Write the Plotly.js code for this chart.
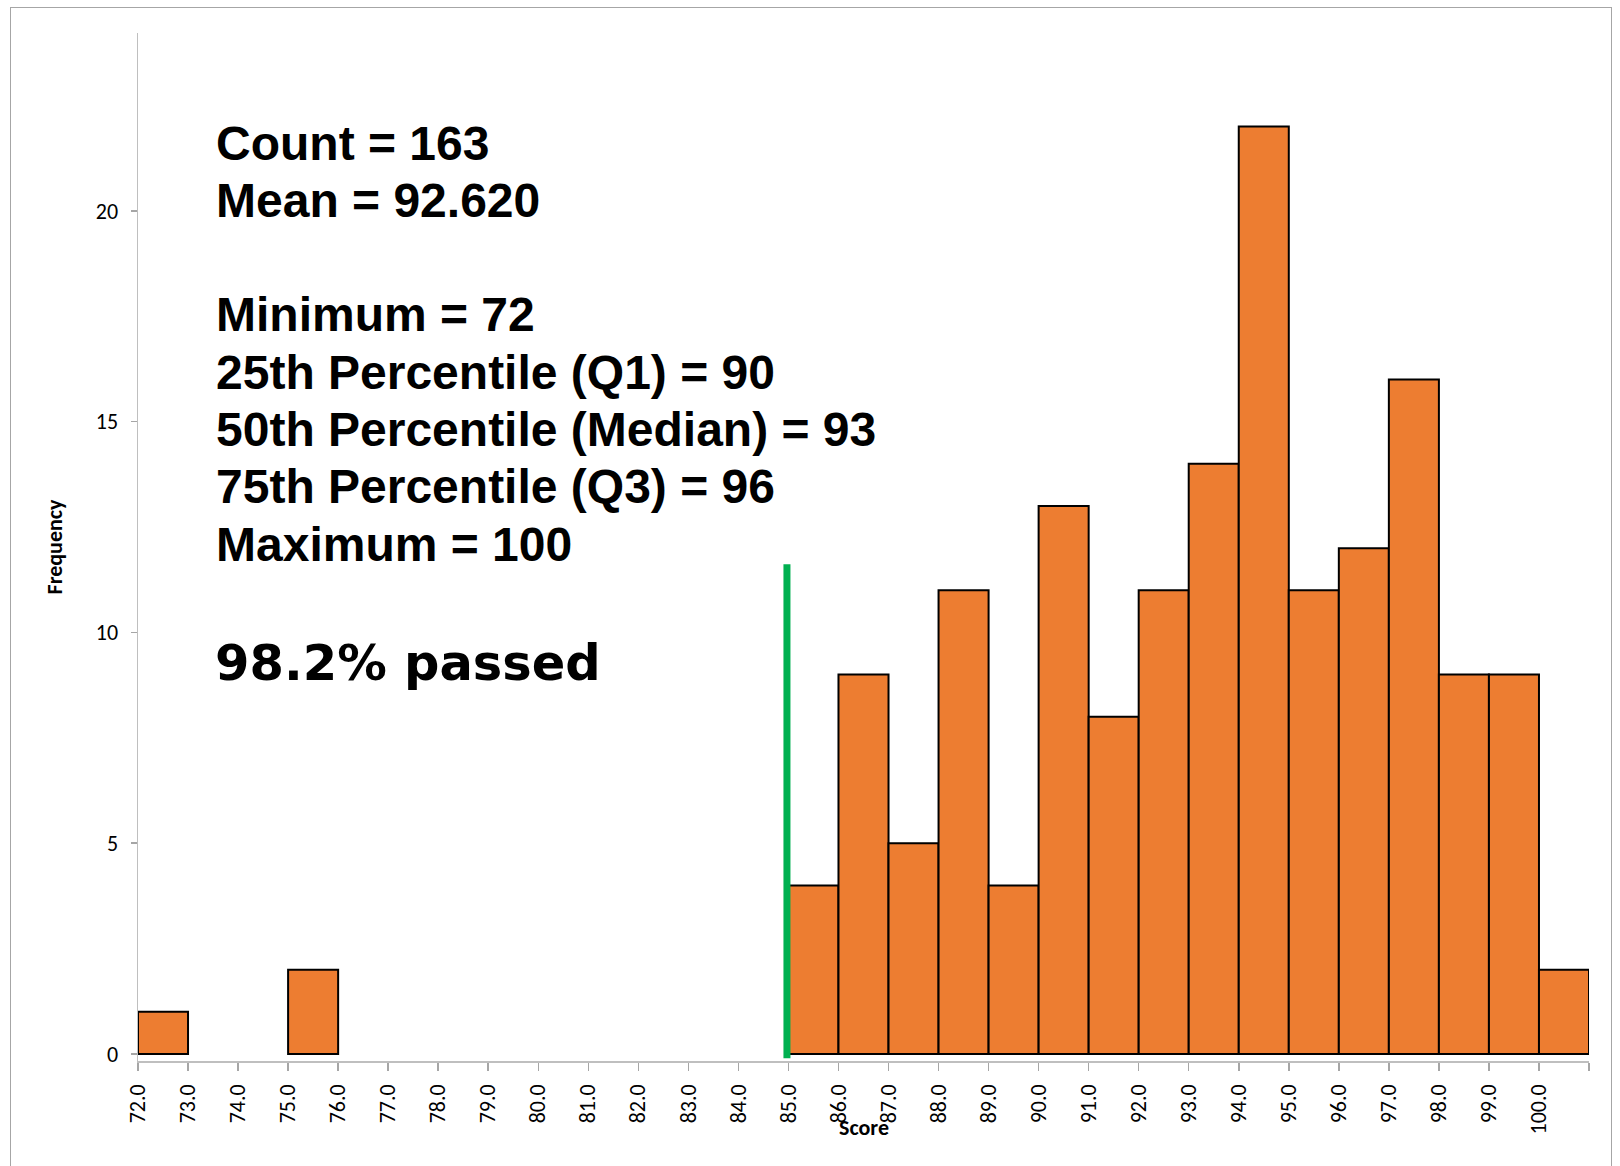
<!DOCTYPE html>
<html>
<head>
<meta charset="utf-8">
<script src="https://cdn.plot.ly/plotly-3.0.1.min.js"></script>
<style>
  html, body { margin: 0; padding: 0; background: #fff; overflow: hidden; }
  #chart { width: 1620px; height: 1166px; position: absolute; left: 0; top: 0; }
  #frame { position: absolute; left: 10px; top: 7px; width: 1600px; height: 1200px;
           border: 1.5px solid #A6A6A6; pointer-events: none; }
</style>
</head>
<body>
<div id="chart"></div>
<div id="frame"></div>
<script>
// ---- data ----
const binStarts = [72,73,74,75,76,77,78,79,80,81,82,83,84,85,86,87,88,89,90,91,92,93,94,95,96,97,98,99,100];
const counts    = [ 1, 0, 0, 2, 0, 0, 0, 0, 0, 0, 0, 0, 0, 4, 9, 5,11, 4,13, 8,11,14,22,11,12,16, 9, 9,  2];
const tickValues = [72,73,74,75,76,77,78,79,80,81,82,83,84,85,86,87,88,89,90,91,92,93,94,95,96,97,98,99,100,101];
const tickLabels = ["72.0","73.0","74.0","75.0","76.0","77.0","78.0","79.0","80.0","81.0","82.0","83.0","84.0","85.0","86.0","87.0","88.0","89.0","90.0","91.0","92.0","93.0","94.0","95.0","96.0","97.0","98.0","99.0","100.0",""];
const statLabels = ["Count","Mean","Minimum","25th Percentile (Q1)","50th Percentile (Median)","75th Percentile (Q3)","Maximum"];
const statValues = ["163","92.620","72","90","93","96","100"];
const passedText = "98.2% passed";
const passLineX = [84.97, 84.97];
const passLineY = [-0.1, 11.62];

// ---- chart ----
// empty bins are left out so that no outline is drawn along the baseline
const nonEmpty = counts.map((c, i) => i).filter(i => counts[i] > 0);
const barTrace = {
  type: 'bar',
  x: nonEmpty.map(i => binStarts[i] + 0.5),
  y: nonEmpty.map(i => counts[i]),
  width: nonEmpty.map(() => 1),
  marker: { color: '#ED7D31', line: { color: '#000000', width: 2 } },
  hoverinfo: 'x+y',
  showlegend: false
};

const axisFont = "Carlito, Calibri, Lato, sans-serif";
const statFont = { family: "'Liberation Sans', Arial, sans-serif", size: 48, color: '#000' };
const statShifts = [-110.5, -167.5, -281.5, -339.5, -396.5, -453.5, -511.5];
const annotations = statLabels.map((lab, i) => ({
  xref: 'paper', yref: 'paper', x: 0, y: 1,
  xanchor: 'left', yanchor: 'middle',
  xshift: 76, yshift: statShifts[i],
  text: '<b>' + lab + ' = ' + statValues[i] + '</b>',
  showarrow: false,
  font: statFont
}));
annotations.push({
  xref: 'paper', yref: 'paper', x: 0, y: 1,
  xanchor: 'left', yanchor: 'middle',
  xshift: 75, yshift: -630,
  text: '<b>' + passedText + '</b>',
  showarrow: false,
  font: { family: "'DejaVu Sans', Verdana, sans-serif", size: 49.5, color: '#000' }
});
annotations.push({
  xref: 'paper', yref: 'paper', x: 0.5, y: 0,
  xanchor: 'center', yanchor: 'middle',
  yshift: -66,
  text: '<b>Score</b>',
  showarrow: false,
  font: { family: axisFont, size: 22, color: '#000' }
});

const layout = {
  width: 1620, height: 1166,
  margin: { l: 138, r: 31, t: 33, b: 105, pad: 0 },
  paper_bgcolor: '#ffffff', plot_bgcolor: '#ffffff',
  bargap: 0,
  showlegend: false,
  xaxis: {
    range: [72, 101],
    tickmode: 'array', tickvals: tickValues, ticktext: tickLabels,
    tickangle: -90,
    ticks: 'outside', ticklen: 8, tickwidth: 1.5, tickcolor: '#A6A6A6',
    ticklabelstandoff: 5,
    showline: true, linecolor: '#BFBFBF', linewidth: 1.5,
    showgrid: false, zeroline: false,
    tickfont: { family: axisFont, size: 22, color: '#000' },
    fixedrange: true
  },
  yaxis: {
    range: [-0.166, 24.22],
    tickmode: 'array', tickvals: [0, 5, 10, 15, 20],
    ticks: 'outside', ticklen: 6, tickwidth: 1.5, tickcolor: '#A6A6A6',
    ticklabelstandoff: 8,
    showline: true, linecolor: '#BFBFBF', linewidth: 1.5,
    showgrid: false, zeroline: false,
    tickfont: { family: axisFont, size: 22, color: '#000' },
    title: { text: '<b>Frequency</b>', font: { family: axisFont, size: 22, color: '#000' }, standoff: 27 },
    fixedrange: true
  },
  shapes: [{
    type: 'line', xref: 'x', yref: 'y',
    x0: passLineX[0], x1: passLineX[1], y0: passLineY[0], y1: passLineY[1],
    line: { color: '#00B050', width: 7 },
    layer: 'above'
  }],
  annotations: annotations
};

Plotly.newPlot('chart', [barTrace], layout, { displayModeBar: false, staticPlot: true });
</script>
</body>
</html>
